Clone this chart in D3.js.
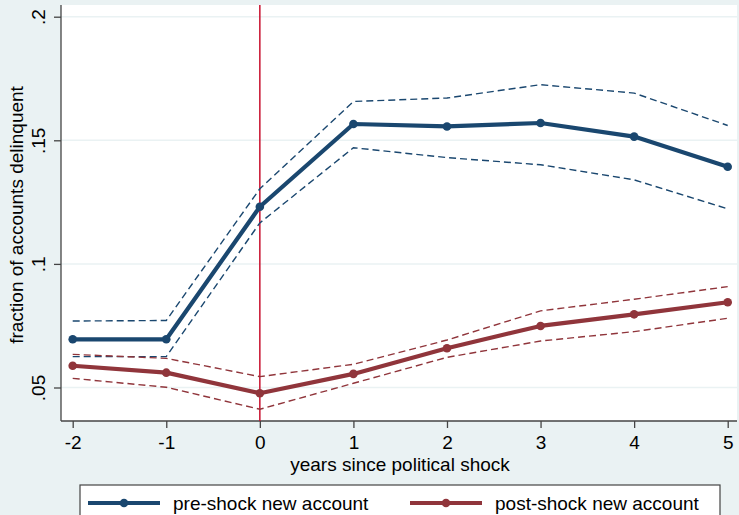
<!DOCTYPE html>
<html>
<head>
<meta charset="utf-8">
<script src="https://cdn.jsdelivr.net/npm/d3@7"></script>
<style>
  html, body { margin: 0; padding: 0; background: #eaf2f3; }
  svg { display: block; font-family: "Liberation Sans", Arial, sans-serif; }
</style>
</head>
<body>
<svg id="chart" width="739" height="515"></svg>
<script>
// Years relative to the political shock
const years = [-2, -1, 0, 1, 2, 3, 4, 5];

// Accounts opened before the shock
const preMean  = [0.0695, 0.0695, 0.1231, 0.1566, 0.1556, 0.1570, 0.1515, 0.1393];
const preUpper = [0.0769, 0.0771, 0.1304, 0.1657, 0.1671, 0.1725, 0.1691, 0.1560];
const preLower = [0.0625, 0.0625, 0.1166, 0.1470, 0.1430, 0.1401, 0.1340, 0.1223];

// Accounts opened after the shock
const postMean  = [0.0588, 0.0560, 0.0477, 0.0555, 0.0659, 0.0749, 0.0796, 0.0845];
const postUpper = [0.0634, 0.0618, 0.0544, 0.0594, 0.0692, 0.0810, 0.0857, 0.0908];
const postLower = [0.0537, 0.0501, 0.0412, 0.0517, 0.0622, 0.0688, 0.0726, 0.0780];

const yTicks = [0.05, 0.1, 0.15, 0.2];
const yTickLabels = [".05", ".1", ".15", ".2"];
const xTickLabels = ["-2", "-1", "0", "1", "2", "3", "4", "5"];
const shockYear = 0;

const seriesNames = ["pre-shock new account", "post-shock new account"];
const blue = "#1a476f";
const red = "#90353b";
const fontSize = 19;

const svg = d3.select("#chart");
const plot = { left: 61, right: 737, top: 5, bottom: 421 };

const x = d3.scaleLinear().domain([-2, 5]).range([72.7, 727.7]);
const y = d3.scaleLinear().domain([0.05, 0.2]).range([387.5, 16.7]);

// White plot region
svg.append("rect")
  .attr("x", plot.left).attr("y", plot.top)
  .attr("width", plot.right - plot.left).attr("height", plot.bottom - plot.top)
  .attr("fill", "#ffffff");

// Horizontal gridlines
svg.append("g").selectAll("line").data(yTicks).join("line")
  .attr("x1", plot.left).attr("x2", plot.right)
  .attr("y1", d => y(d)).attr("y2", d => y(d))
  .attr("stroke", "#eaf2f3").attr("stroke-width", 1.5);

// Y axis
const yAxis = d3.axisLeft(y).tickValues(yTicks)
  .tickFormat((d, i) => yTickLabels[i]).tickSize(7).tickPadding(0);
const gy = svg.append("g").attr("transform", `translate(${plot.left},0)`).call(yAxis);
gy.select(".domain").attr("d", `M0,${plot.top}V${plot.bottom}`).attr("stroke", "#444").attr("stroke-width", 1.3);
gy.selectAll(".tick line").attr("stroke", "#444").attr("stroke-width", 1.3);
gy.selectAll(".tick text")
  .attr("font-size", fontSize).attr("fill", "#000")
  .attr("text-anchor", "middle")
  .attr("transform", "translate(-16,0) rotate(-90)")
  .attr("x", 0).attr("y", 0).attr("dy", 0);

// X axis
const xAxis = d3.axisBottom(x).tickValues(years)
  .tickFormat((d, i) => xTickLabels[i]).tickSize(7);
const gx = svg.append("g").attr("transform", `translate(0,${plot.bottom})`).call(xAxis);
gx.select(".domain").attr("d", `M${plot.left},0H${plot.right}`).attr("stroke", "#444").attr("stroke-width", 1.3);
gx.selectAll(".tick line").attr("stroke", "#444").attr("stroke-width", 1.3);
gx.selectAll(".tick text").attr("font-size", fontSize).attr("fill", "#000")
  .attr("y", 28).attr("dy", 0);

// Axis titles
svg.append("text")
  .attr("x", (plot.left + plot.right) / 2 + 1).attr("y", 470.5)
  .attr("text-anchor", "middle").attr("font-size", fontSize)
  .text("years since political shock");
svg.append("text")
  .attr("transform", `translate(23,215) rotate(-90)`)
  .attr("text-anchor", "middle").attr("font-size", fontSize)
  .text("fraction of accounts delinquent");

// Shock marker
svg.append("line")
  .attr("x1", x(shockYear)).attr("x2", x(shockYear))
  .attr("y1", plot.top).attr("y2", plot.bottom)
  .attr("stroke", "#c8102e").attr("stroke-width", 1.5);

const line = d3.line().x((d, i) => x(years[i])).y(d => y(d));

function drawBand(values, color) {
  svg.append("path").datum(values)
    .attr("d", line).attr("fill", "none")
    .attr("stroke", color).attr("stroke-width", 1.4)
    .attr("stroke-dasharray", "7,4");
}
function drawMean(values, color) {
  svg.append("path").datum(values)
    .attr("d", line).attr("fill", "none")
    .attr("stroke", color).attr("stroke-width", 4.2)
    .attr("stroke-linejoin", "round");
  svg.append("g").selectAll("circle").data(values).join("circle")
    .attr("cx", (d, i) => x(years[i])).attr("cy", d => y(d))
    .attr("r", 4.3).attr("fill", color);
}

drawBand(preUpper, blue);
drawBand(preLower, blue);
drawBand(postUpper, red);
drawBand(postLower, red);
drawMean(preMean, blue);
drawMean(postMean, red);

// Legend
const legend = svg.append("g");
legend.append("rect")
  .attr("x", 80).attr("y", 485).attr("width", 640).attr("height", 40)
  .attr("fill", "#ffffff").attr("stroke", "#444").attr("stroke-width", 1.2);
const legendItems = [
  { name: seriesNames[0], color: blue, x0: 88 },
  { name: seriesNames[1], color: red, x0: 410 }
];
legendItems.forEach(it => {
  legend.append("line")
    .attr("x1", it.x0).attr("x2", it.x0 + 72)
    .attr("y1", 503).attr("y2", 503)
    .attr("stroke", it.color).attr("stroke-width", 4.2);
  legend.append("circle")
    .attr("cx", it.x0 + 36).attr("cy", 503).attr("r", 4.3).attr("fill", it.color);
  legend.append("text")
    .attr("x", it.x0 + 85).attr("y", 510)
    .attr("font-size", fontSize).text(it.name);
});
</script>
</body>
</html>
